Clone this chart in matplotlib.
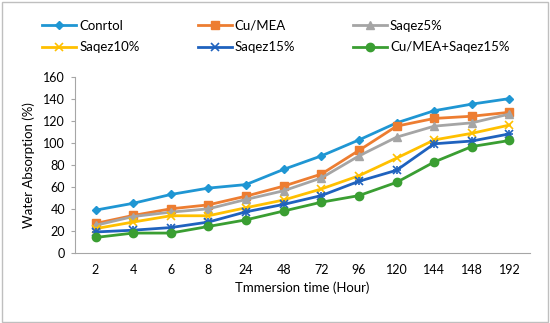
import matplotlib
matplotlib.use("Agg")
import matplotlib.pyplot as plt
from matplotlib.patches import Rectangle

plt.rcParams['font.family'] = ['Lato', 'DejaVu Sans']

hours = ["2", "4", "6", "8", "24", "48", "72", "96", "120", "144", "148", "192"]
control = [38.8, 45, 53, 58.8, 62, 75.8, 88, 102.5, 118, 129, 135, 140]
cu_mea = [26.7, 34, 40, 43.6, 51.5, 60.6, 71.5, 93, 115, 122, 124, 127.6]
saqez5 = [25, 33, 37, 40, 48.5, 56.4, 68, 88, 105, 115, 118, 126]
saqez10 = [22, 28, 33.7, 33.7, 41, 48, 58, 70, 86, 102.5, 108.5, 116]
saqez15 = [19, 20.6, 23, 28, 37.3, 44, 52, 65, 75, 99, 101.5, 108]
cu_saqez15 = [14, 18, 18, 24, 30, 38, 46, 52, 64, 82.5, 96.5, 102]

series = [
    ("Conrtol", control, "#1F96D3", "D", 4.5),
    ("Cu/MEA", cu_mea, "#ED7D31", "s", 6),
    ("Saqez5%", saqez5, "#A5A5A5", "^", 6),
    ("Saqez10%", saqez10, "#FFC000", "x", 6),
    ("Saqez15%", saqez15, "#1F62BE", "x", 6),
    ("Cu/MEA+Saqez15%", cu_saqez15, "#3A9E32", "o", 6),
]

fig = plt.figure(figsize=(5.5, 3.23), dpi=100)
fig.patches.append(Rectangle((0.003, 0.004), 0.994, 0.99, transform=fig.transFigure,
                             fill=False, edgecolor="#BFBFBF", linewidth=1))
ax = fig.add_axes([0.136, 0.217, 0.828, 0.546])
x = list(range(len(hours)))
handles = []
for name, vals, col, mk, ms in series:
    if name == "Saqez15%":
        h, = ax.plot(x, vals, color=col, linewidth=2, marker=mk, markersize=ms,
                     markeredgewidth=1.2, label=name)
        ax.plot(x, vals, linestyle="none", marker="+", markersize=ms, color=col,
                markeredgewidth=1.2)
    elif mk == "x":
        h, = ax.plot(x, vals, color=col, linewidth=2, marker=mk, markersize=ms,
                     markeredgewidth=1.2, label=name)
    else:
        h, = ax.plot(x, vals, color=col, linewidth=2, marker=mk, markersize=ms,
                     label=name)
    handles.append(h)

ax.set_xlim(-0.55, 11.55)
ax.set_ylim(0, 160)
ax.set_yticks(range(0, 161, 20))
ax.set_xticks(x)
ax.set_xticklabels(hours)
for s in ["top", "right"]:
    ax.spines[s].set_visible(False)
for s in ["left", "bottom"]:
    ax.spines[s].set_color("#A6A6A6")
ax.tick_params(axis="x", length=0, labelsize=9, pad=8, colors="#000000")
ax.tick_params(axis="y", length=3, color="#A6A6A6", labelsize=9, pad=4)
ax.set_xlabel("Tmmersion time (Hour)", fontsize=9.5, labelpad=4)
ax.set_ylabel("Water Absorption (%)", fontsize=9.5, labelpad=6)

order = [0, 3, 1, 4, 2, 5]
fig.legend([handles[i] for i in order], [series[i][0] for i in order],
           loc="upper left", bbox_to_anchor=(0.055, 0.975), ncol=3, frameon=False,
           fontsize=9.5, handlelength=2.6, handletextpad=0.2, columnspacing=4.4,
           labelspacing=0.7)

fig.savefig("out.png", dpi=100)
